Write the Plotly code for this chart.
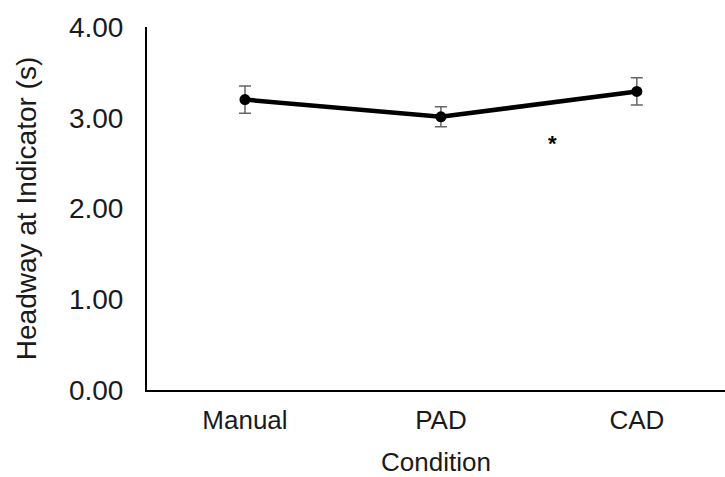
import plotly.graph_objects as go

categories = ["Manual", "PAD", "CAD"]
means = [3.20, 3.01, 3.29]
errors = [0.15, 0.11, 0.15]
y_ticks = [0, 1, 2, 3, 4]
y_tick_labels = ["0.00", "1.00", "2.00", "3.00", "4.00"]
star_pos = (1.57, 2.72)

FONT = "Liberation Sans"
TXT = "#1a1a1a"

fig = go.Figure()
fig.add_trace(go.Scatter(
    x=[0, 1, 2], y=means,
    mode="lines+markers",
    line=dict(color="black", width=4.5),
    marker=dict(color="black", size=11),
    error_y=dict(type="data", array=errors, visible=True,
                 color="#666666", thickness=1.5, width=6),
    showlegend=False,
))

fig.add_annotation(x=star_pos[0], y=star_pos[1], text="<b>*</b>", showarrow=False,
                   font=dict(family=FONT, size=22, color="black"))

fig.update_layout(
    width=725, height=477,
    margin=dict(l=147, r=0, t=27, b=87),
    paper_bgcolor="white", plot_bgcolor="white",
    font=dict(family=FONT, size=26, color=TXT),
)
fig.update_xaxes(
    range=[-0.5, 2.45],
    tickmode="array", tickvals=[0, 1, 2], ticktext=categories,
    showline=True, linecolor="black", linewidth=2,
    showgrid=False, zeroline=False, ticks="",
    ticklabelstandoff=6,
    title=dict(text="Condition", font=dict(size=26, color=TXT), standoff=19),
)
fig.update_yaxes(
    range=[0, 4],
    tickmode="array", tickvals=y_ticks, ticktext=y_tick_labels,
    tickfont=dict(size=28),
    showline=True, linecolor="black", linewidth=2,
    showgrid=False, zeroline=False, ticks="",
    ticklabelstandoff=16,
    title=dict(text="Headway at Indicator (s)", font=dict(size=28, color=TXT), standoff=24),
)

fig.write_html("out.html", config={"displayModeBar": False},
               post_script="document.body.style.margin='0';document.body.style.overflow='hidden';")
